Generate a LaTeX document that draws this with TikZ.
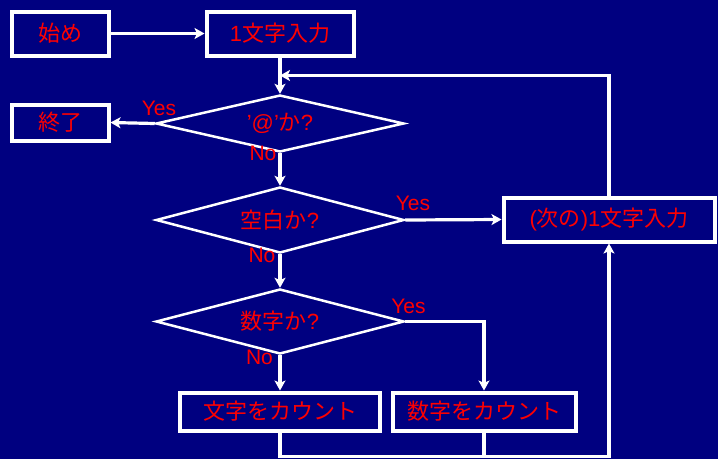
\documentclass[tikz,border=0pt]{standalone}
\usepackage{fontspec}
\setmainfont{Liberation Sans}
\newfontfamily\jp{Noto Sans CJK JP}
\usetikzlibrary{arrows.meta,shapes.geometric}
\definecolor{bg}{RGB}{0,0,128}
\definecolor{txt}{RGB}{255,0,0}
\begin{document}
\begin{tikzpicture}[x=1pt,y=-1pt,
  box/.style={draw=white,line width=4pt,text=txt,inner sep=0pt,font=\fontsize{22}{26}\selectfont},
  dia/.style={diamond,draw=white,line width=2.5pt,inner sep=0pt,minimum width=248pt},
  dtext/.style={text=txt,font=\fontsize{22}{26}\selectfont},
  lab/.style={text=txt,font=\fontsize{21}{25}\selectfont,inner sep=0pt},
  conn/.style={draw=white,line width=3.2pt},
  arr/.style={conn,-{Stealth[length=10pt,width=11pt,inset=2.5pt]}}]
\fill[bg] (0,0) rectangle (718,459);
\useasboundingbox (0,0) rectangle (718,459);

\node[box,minimum width=97pt,minimum height=44pt] (start) at (60,33.5) {\jp 始め};
\node[box,minimum width=147pt,minimum height=44pt] (input) at (280,33.5) {1{\jp 文字入力}};
\node[box,minimum width=97pt,minimum height=36pt] (end) at (60,122.5) {\jp 終了};
\node[box,minimum width=211pt,minimum height=44pt] (next) at (609,219.5) {({\jp 次の})1{\jp 文字入力}};
\node[box,minimum width=200pt,minimum height=38pt] (cnt1) at (280,411.5) {\jp 文字をカウント};
\node[box,minimum width=183pt,minimum height=38pt] (cnt2) at (484,411.5) {\jp 数字をカウント};

\node[dia,minimum height=57pt,label={[dtext]center:\char"27@\char"27{\jp か}?}] (d1) at (280,123.5) {};
\node[dia,minimum height=66pt,label={[dtext]center:{\jp 空白か}?}] (d2) at (280,220) {};
\node[dia,minimum height=65pt,label={[dtext]center:{\jp 数字か}?}] (d3) at (280,321.5) {};

\coordinate (loopin) at (280,75.5);
\coordinate (bot) at (280,456.5);

\draw[arr] (start.east) -- (input.west);
\draw[arr] (input.south) -- (d1.north);
\draw[arr] (d1.west) -- (end.east);
\draw[arr] (d1.south) -- (d2.north);
\draw[arr] (d2.east) -- (next.west);
\draw[arr] (d2.south) -- (d3.north);
\draw[arr] (d3.east) -| (cnt2.north);
\draw[arr] (d3.south) -- (cnt1.north);
\draw[arr] (next.north) |- (loopin);
\draw[arr] (cnt1.south) -- (bot) -| (next.south);
\draw[conn] (cnt2.south) -- (cnt2.south |- bot);

\node[lab] (y1) at (159,108) {Yes};
\node[lab] (n1) at (263,153) {No};
\node[lab] (y2) at (413,203) {Yes};
\node[lab] (n2) at (262,255) {No};
\node[lab] (y3) at (408.5,306) {Yes};
\node[lab] (n3) at (259.5,357) {No};
\end{tikzpicture}
\end{document}
